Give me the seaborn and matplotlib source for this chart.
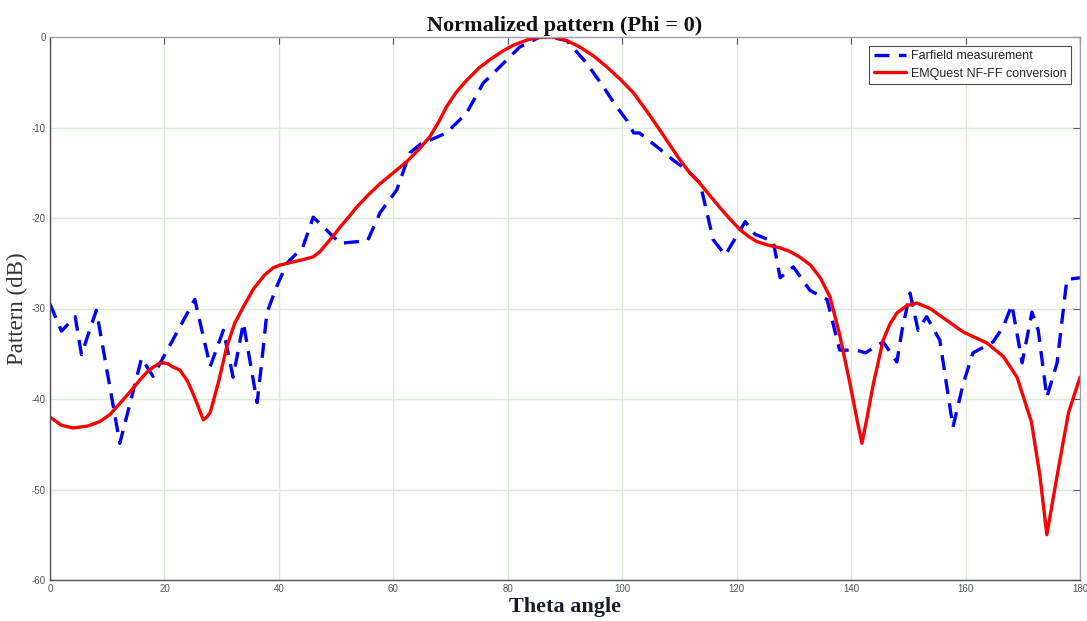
import matplotlib
matplotlib.use("Agg")
import matplotlib.pyplot as plt
import seaborn as sns
import numpy as np

# Farfield measurement (dashed blue)
meas_theta = [0, 2, 4.4, 5.5, 8.1, 12.2, 16, 18, 25.3, 28, 30.3, 32, 33.8, 36.2, 36.9,
              37.9, 39.6, 41.4, 44.2, 46, 50.7, 55.5, 57.7, 60.6, 62.9, 65.2, 66.4,
              69.3, 72.8, 75.7, 78.6, 82.1, 85.6, 87.4, 90.3, 93.8, 96.7, 99, 100.8,
              102, 103, 106, 108.9, 111.3, 113.6, 114.8, 115.9, 118, 121.5, 123.2,
              126.4, 127.6, 129.9, 132.8, 135.8, 138, 141, 142.5, 145.6, 148, 148.9,
              150.3, 151.7, 153.2, 155.5, 157.8, 159.6, 161.3, 164.8, 166.6, 168.1,
              169.9, 171.6, 172.7, 174.2, 176, 177.7, 180]
meas_db = [-29.5, -32.5, -30.9, -35.1, -30.2, -44.9, -35.5, -37.5, -29.0, -36.4, -32.4,
           -37.6, -31.6, -40.4, -36.5, -30.5, -27.6, -25.0, -23.2, -19.9, -22.8, -22.5,
           -19.4, -16.9, -12.8, -11.6, -11.4, -10.6, -8.4, -5.1, -3.3, -1.1, 0.0, 0.0,
           -0.4, -2.9, -5.5, -7.7, -9.2, -10.6, -10.6, -12.1, -13.6, -14.7, -16.1,
           -19.4, -22.4, -24.1, -20.4, -21.8, -22.6, -26.6, -25.4, -28.0, -29.0, -34.6,
           -34.6, -34.9, -33.7, -35.9, -32.4, -28.3, -32.4, -30.9, -33.5, -43.1, -38.3,
           -34.9, -33.7, -32.0, -29.6, -36.0, -30.4, -32.4, -39.8, -36.0, -26.8, -26.6]

# EMQuest NF-FF conversion (solid red)
conv_theta = [0, 2, 4, 6.5, 8.7, 10.5, 12.2, 14, 15.7, 17, 18, 19, 19.8, 20.6, 21.3,
              22.7, 24, 25, 26, 26.8, 27.4, 28, 29.5, 30.9, 32.3, 33.8, 35.6, 37.5,
              39, 40.2, 42.2, 44.2, 46, 47.2, 48.4, 49.6, 50.7, 52.2, 53.6, 55.7,
              57.7, 60, 62.3, 64.5, 66.4, 68, 69.3, 71, 72.8, 75, 76.9, 79, 81, 83.5,
              85.6, 88, 90.3, 92.6, 95, 97.3, 99.7, 102, 104.3, 106.6, 108.4, 110.1,
              111.8, 113.6, 115.3, 117, 118.8, 120.6, 122, 123.5, 125.5, 127.6, 129.3,
              131, 132.9, 134.6, 136.3, 138, 139.8, 141.1, 141.9, 142.8, 143.9, 145.6,
              146.8, 148, 149.7, 151.5, 153.8, 156.7, 159.6, 163.7, 166.6, 169, 171.5,
              173, 174.2, 175.3, 176.5, 178, 180]
conv_db = [-42.0, -42.9, -43.2, -43.0, -42.5, -41.7, -40.5, -39.2, -37.9, -37.0, -36.5,
           -36.1, -36.0, -36.1, -36.4, -36.8, -38.0, -39.4, -41.0, -42.3, -42.0, -41.5,
           -38.0, -34.2, -31.6, -29.8, -27.8, -26.3, -25.5, -25.2, -24.9, -24.6, -24.3,
           -23.7, -22.8, -21.9, -21.0, -19.9, -18.8, -17.4, -16.2, -15.0, -13.8, -12.4,
           -11.0, -9.3, -7.7, -6.1, -4.8, -3.4, -2.5, -1.6, -0.9, -0.3, 0.0, 0.0, -0.4,
           -1.1, -2.1, -3.3, -4.7, -6.2, -8.2, -10.3, -12.0, -13.6, -15.0, -16.2, -17.5,
           -18.8, -20.1, -21.3, -22.0, -22.6, -23.0, -23.3, -23.7, -24.3, -25.2, -26.6,
           -28.7, -32.9, -38.3, -42.5, -44.9, -42.0, -38.3, -33.5, -31.7, -30.5, -29.7,
           -29.4, -30.0, -31.3, -32.6, -33.8, -35.3, -37.6, -42.5, -48.5, -55.0, -51.0,
           -46.7, -41.5, -37.6]

x_ticks = list(range(0, 181, 20))
y_ticks = list(range(-60, 1, 10))
title_text = "Normalized pattern (Phi = 0)"
xlabel_text = "Theta angle"
ylabel_text = "Pattern (dB)"
legend_labels = ["Farfield measurement", "EMQuest NF-FF conversion"]

sns.set_style("white")
plt.rcParams["axes.unicode_minus"] = False
fig = plt.figure(figsize=(10.87, 6.21), dpi=100)
ax = fig.add_axes([50 / 1087, 1 - 580 / 621, 1030 / 1087, 543 / 621])

sns.lineplot(x=meas_theta, y=meas_db, ax=ax, color="#0000ff", lw=2.4,
             label=legend_labels[0], sort=False)
ax.lines[-1].set_dashes([4.5, 2.8])
sns.lineplot(x=conv_theta, y=conv_db, ax=ax, color="#ff0000", lw=2.4,
             label=legend_labels[1], sort=False)
ax.lines[-1].set_solid_joinstyle("round")

ax.set_xlim(0, 180)
ax.set_ylim(-60, 0)
ax.set_xticks(x_ticks)
ax.set_yticks(y_ticks)
ax.grid(True, color="#d8ead8", lw=1.0)
ax.set_axisbelow(True)
ax.tick_params(direction="in", length=5, width=0.8, colors="#555566",
               labelsize=7, labelcolor="#555555", top=True, right=True,
               pad=3)
for s in ["left", "bottom"]:
    ax.spines[s].set_color("#4d4d66")
    ax.spines[s].set_linewidth(1.0)
for s in ["top", "right"]:
    ax.spines[s].set_color("#a0a0b0")
    ax.spines[s].set_linewidth(1.0)

ax.set_title(title_text, fontfamily="Liberation Serif", fontweight="bold",
             fontsize=16, pad=4, color="#111111")
ax.set_xlabel(xlabel_text, fontfamily="Liberation Serif", fontweight="bold",
              fontsize=16, color="#1a1a2e", labelpad=2)
ax.set_ylabel(ylabel_text, fontfamily="Liberation Serif", fontsize=16.5,
              color="#333333", labelpad=3)
for lab in ax.get_xticklabels() + ax.get_yticklabels():
    lab.set_fontfamily("Liberation Sans")

leg = ax.legend(loc="upper right", frameon=True, fancybox=False,
                handlelength=2.6, borderpad=0.35, labelspacing=0.45,
                handletextpad=0.4, borderaxespad=0.7,
                prop={"family": "Liberation Sans", "size": 9})
leg.get_frame().set_edgecolor("#222222")
leg.get_frame().set_linewidth(0.8)

fig.savefig("out.png", dpi=100)
